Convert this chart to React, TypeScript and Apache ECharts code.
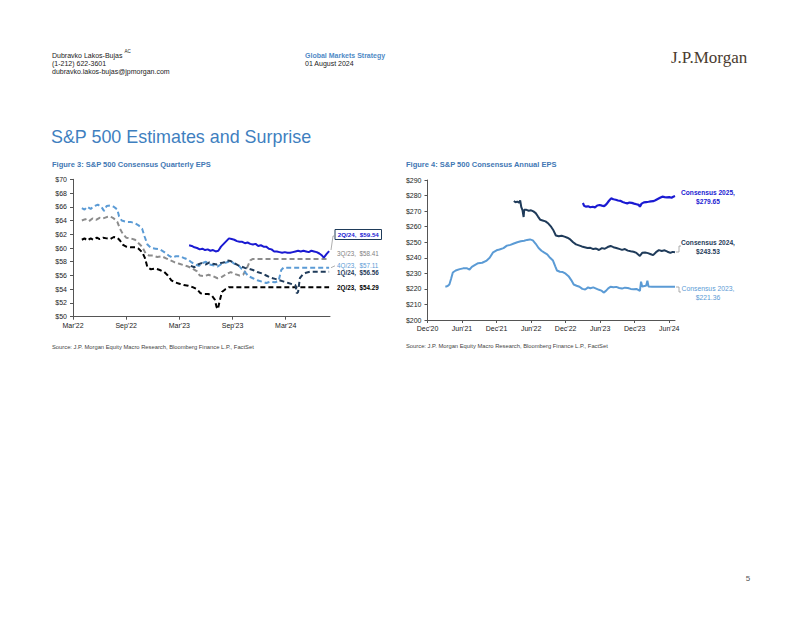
import React, { useEffect, useRef } from "react";
import * as echarts from "echarts";

// ---------- Figure 3: quarterly EPS (x = months since 1 Mar 2022) ----------
const qTickValues = [0, 6, 12, 18, 24];
const qTickLabels = ["Mar'22", "Sep'22", "Mar'23", "Sep'23", "Mar'24"];
const qYTicks = [50, 70, 2];

const q2_23: [number, number][] = [[1.0,61.2],[1.3,61.4],[1.6,61.1],[2.0,61.4],[2.3,61.2],[2.7,61.5],[3.0,61.3],[3.4,61.5],[3.8,61.4],[4.2,61.3],[4.6,61.6],[5.0,61.5],[5.3,61.1],[5.6,60.5],[6.0,60.2],[6.5,60.1],[7.0,60.1],[7.4,59.9],[7.8,59.4],[8.1,58.6],[8.4,57.2],[8.8,56.9],[9.3,57.0],[9.8,56.8],[10.3,56.5],[10.7,56.0],[11.1,55.3],[11.5,55.0],[12.0,54.8],[12.5,54.6],[13.0,54.5],[13.5,54.3],[14.0,54.0],[14.4,53.4],[14.8,53.3],[15.3,53.3],[15.7,53.0],[16.0,52.5],[16.2,51.4],[16.35,51.1],[16.5,52.0],[16.8,53.6],[17.2,54.0],[17.6,54.3],[18.0,54.29],[28.9,54.29]];
const q3_23: [number, number][] = [[1.0,64.0],[1.4,64.2],[1.8,63.9],[2.2,64.3],[2.6,64.1],[3.0,64.4],[3.4,64.3],[3.8,64.5],[4.2,64.6],[4.6,64.3],[5.0,63.8],[5.3,62.8],[5.6,62.1],[6.0,61.5],[6.5,61.4],[7.0,61.2],[7.4,60.7],[7.8,60.2],[8.2,59.2],[8.6,58.9],[9.0,58.9],[9.5,58.7],[10.0,58.8],[10.5,58.5],[11.0,58.2],[11.5,57.9],[12.0,57.7],[12.5,57.5],[13.0,57.3],[13.5,57.0],[14.0,56.6],[14.3,56.0],[14.8,55.9],[15.3,56.1],[15.8,55.9],[16.3,55.6],[16.8,55.8],[17.3,56.2],[17.8,56.5],[18.3,56.2],[18.8,56.0],[19.2,56.1],[19.6,57.0],[20.0,58.2],[20.3,58.41],[28.9,58.41]];
const q4_23: [number, number][] = [[1.0,65.8],[1.3,65.6],[1.6,66.0],[2.0,65.7],[2.4,66.1],[2.8,66.3],[3.2,66.0],[3.5,65.4],[3.8,66.1],[4.2,66.2],[4.6,66.0],[5.0,65.6],[5.2,64.6],[5.5,64.0],[6.0,63.8],[6.5,63.8],[7.0,63.6],[7.4,63.3],[7.8,62.8],[8.1,61.6],[8.4,60.5],[8.8,60.0],[9.3,59.9],[9.8,59.8],[10.3,59.4],[10.8,58.9],[11.2,58.6],[11.6,58.8],[12.1,58.8],[12.6,58.5],[13.0,58.3],[13.4,57.9],[13.8,57.6],[14.2,57.4],[14.6,57.8],[15.0,58.0],[15.4,57.6],[15.8,57.5],[16.3,57.3],[16.8,57.7],[17.3,57.9],[17.8,58.1],[18.2,57.7],[18.6,57.6],[19.0,57.0],[19.4,56.5],[19.8,55.9],[20.3,55.6],[20.8,55.3],[21.3,55.1],[21.8,54.9],[22.3,55.1],[22.8,55.0],[23.2,55.2],[23.5,56.8],[23.8,57.2],[24.2,57.11],[28.9,57.11]];
const q1_24: [number, number][] = [[13.3,57.4],[13.7,57.2],[14.1,57.6],[14.5,57.8],[15.0,57.6],[15.4,57.9],[15.8,57.7],[16.2,57.6],[16.6,57.8],[17.0,57.9],[17.4,58.2],[17.8,58.1],[18.2,57.8],[18.6,57.5],[19.0,57.3],[19.4,57.1],[19.8,57.0],[20.3,56.8],[20.8,56.5],[21.3,56.3],[21.8,56.0],[22.3,55.7],[22.8,55.5],[23.3,55.3],[23.8,55.1],[24.3,54.9],[24.8,54.7],[25.1,54.6],[25.25,53.4],[25.4,53.6],[25.6,55.6],[25.9,56.1],[26.3,56.4],[26.8,56.56],[28.9,56.56]];
const q2_24: [number, number][] = [[13.1,60.4],[13.4,60.3],[13.7,60.1],[14.0,60.0],[14.3,59.8],[14.6,59.9],[14.9,59.7],[15.2,59.8],[15.5,59.6],[15.8,59.7],[16.1,59.5],[16.4,59.6],[16.7,60.2],[17.0,60.6],[17.3,61.0],[17.6,61.4],[17.9,61.3],[18.2,61.2],[18.5,61.0],[18.8,60.9],[19.1,60.9],[19.4,60.7],[19.7,60.8],[20.0,60.6],[20.3,60.5],[20.6,60.6],[20.9,60.3],[21.2,60.4],[21.5,60.2],[21.8,60.2],[22.1,59.9],[22.4,59.8],[22.7,59.5],[23.0,59.5],[23.3,59.4],[23.6,59.3],[23.9,59.4],[24.2,59.3],[24.5,59.3],[24.8,59.4],[25.1,59.5],[25.4,59.6],[25.7,59.5],[26.0,59.6],[26.3,59.5],[26.6,59.4],[26.9,59.6],[27.2,59.5],[27.5,59.4],[27.8,59.2],[28.1,58.9],[28.3,58.6],[28.6,59.1],[28.9,59.54]];

// ---------- Figure 4: annual EPS (x = months since 1 Dec 2020) ----------
const aTickValues = [0, 6, 12, 18, 24, 30, 36, 42];
const aTickLabels = ["Dec'20", "Jun'21", "Dec'21", "Jun'22", "Dec'22", "Jun'23", "Dec'23", "Jun'24"];

const c2023: [number, number][] = [[3.1,221.4],[3.5,221.8],[3.8,222.8],[4.1,226.5],[4.4,230.5],[4.9,231.8],[5.6,232.7],[6.2,233.2],[6.8,233.3],[7.3,232.4],[7.7,234.2],[8.2,235.3],[8.8,236.5],[9.5,236.8],[10.2,238.0],[10.8,240.0],[11.4,243.5],[12.0,244.8],[12.5,245.3],[13.2,246.2],[13.8,247.8],[14.4,248.3],[15.0,249.2],[15.6,250.0],[16.2,250.6],[16.8,251.0],[17.3,251.5],[17.8,251.8],[18.3,251.2],[18.8,249.0],[19.3,246.3],[19.8,244.5],[20.3,243.3],[20.8,242.2],[21.3,240.0],[21.8,238.2],[22.2,234.5],[22.5,231.8],[23.0,231.0],[23.5,230.8],[24.0,229.8],[24.5,228.2],[25.0,225.5],[25.4,222.8],[25.9,222.0],[26.4,221.4],[26.9,220.0],[27.4,219.6],[27.9,221.0],[28.3,220.4],[28.8,221.0],[29.3,220.2],[29.8,219.4],[30.2,218.9],[30.6,217.6],[31.0,218.7],[31.4,220.3],[31.8,221.4],[32.3,221.0],[32.8,221.3],[33.3,220.6],[33.8,220.2],[34.3,220.8],[34.8,220.6],[35.3,220.0],[35.8,219.8],[36.3,220.0],[36.9,218.8],[37.1,224.6],[37.3,221.5],[37.7,221.8],[38.0,222.2],[38.2,225.3],[38.4,221.5],[39.0,221.36],[43.0,221.36]];
const c2024: [number, number][] = [[15.0,276.5],[15.3,275.7],[15.6,276.1],[15.9,275.4],[16.1,276.8],[16.3,272.5],[16.5,270.6],[16.7,266.2],[16.8,270.8],[17.2,270.8],[17.6,270.2],[18.0,270.5],[18.4,269.8],[18.8,268.7],[19.2,266.5],[19.6,264.4],[20.0,264.0],[20.5,263.4],[21.0,262.0],[21.5,259.8],[21.9,257.5],[22.3,254.3],[22.8,253.8],[23.3,254.2],[23.8,253.6],[24.3,252.9],[24.8,251.8],[25.3,250.0],[25.8,248.6],[26.3,248.0],[26.8,247.3],[27.3,246.8],[27.8,246.3],[28.3,246.4],[28.8,245.6],[29.3,245.9],[29.8,245.0],[30.3,246.2],[30.8,245.8],[31.3,246.9],[31.8,247.6],[32.3,246.8],[32.8,246.3],[33.3,245.7],[33.8,245.1],[34.3,245.6],[34.8,244.6],[35.3,244.2],[35.8,243.9],[36.3,243.1],[36.9,241.2],[37.3,243.2],[37.8,243.4],[38.3,243.0],[38.8,242.3],[39.2,241.7],[39.7,243.6],[40.2,244.9],[40.7,244.4],[41.2,244.8],[41.7,243.9],[42.2,243.1],[42.6,243.8],[43.0,243.53]];
const c2025: [number, number][] = [[27.0,275.2],[27.2,273.5],[27.5,272.9],[27.9,273.1],[28.3,272.5],[28.7,272.8],[29.1,272.4],[29.5,273.6],[29.9,273.9],[30.3,273.5],[30.7,273.2],[31.1,274.5],[31.5,276.5],[31.9,278.2],[32.3,277.6],[32.7,277.3],[33.1,276.8],[33.5,276.6],[33.9,275.9],[34.3,275.4],[34.7,275.0],[35.1,275.5],[35.5,275.3],[35.9,274.8],[36.3,274.4],[36.7,274.0],[36.9,272.8],[37.2,274.8],[37.6,275.6],[38.0,275.8],[38.4,276.0],[38.8,276.3],[39.2,276.4],[39.6,277.0],[40.0,277.8],[40.4,278.6],[40.8,279.3],[41.2,279.0],[41.6,278.8],[42.0,279.0],[42.4,278.6],[42.7,279.2],[43.0,279.65]];

const SANS = "'Liberation Sans', Arial, sans-serif";
const NARROW = "'Liberation Sans Narrow', 'Arial Narrow', 'Liberation Sans', Arial, sans-serif";

const C_BLUE = "#1a1ad2";
const C_GRAY = "#8c8c8c";
const C_LBLUE = "#5b9bd5";
const C_NAVY = "#1f3b5a";
const C_BLACK = "#000000";
const C_TITLE = "#3f7fbf";

function txt(x: number, y: number, text: string, o: any = {}) {
  return {
    type: "text",
    x,
    y,
    silent: true,
    style: {
      text,
      fill: o.fill || "#222",
      fontSize: o.size || 7,
      fontFamily: o.family || SANS,
      fontWeight: o.weight || "normal",
      align: o.align || "left",
      verticalAlign: "middle",
    },
  };
}

function pl(points: number[][], stroke = "#9a9a9a") {
  return { type: "polyline", silent: true, shape: { points }, style: { stroke, lineWidth: 0.8, fill: "none" } };
}

const axisLabelStyle = { color: "#222", fontSize: 7, fontFamily: NARROW };

function xAxisDef(gridIndex: number, max: number, ticks: number[], labels: string[], margin: number) {
  return {
    type: "value",
    gridIndex,
    min: 0,
    max,
    interval: 6,
    splitLine: { show: false },
    axisLine: { show: true, lineStyle: { color: "#555", width: 1 } },
    axisTick: { show: true, length: 3, lineStyle: { color: "#555" }, customValues: ticks },
    axisLabel: {
      ...axisLabelStyle,
      margin,
      customValues: ticks,
      formatter: (v: number) => {
        const i = ticks.indexOf(Math.round(v));
        return i >= 0 ? labels[i] : "";
      },
    },
  };
}

function yAxisDef(gridIndex: number, min: number, max: number, interval: number) {
  return {
    type: "value",
    gridIndex,
    min,
    max,
    interval,
    splitLine: { show: false },
    axisLine: { show: true, lineStyle: { color: "#555", width: 1 } },
    axisTick: { show: true, length: 3, lineStyle: { color: "#555" } },
    axisLabel: { ...axisLabelStyle, margin: 6, formatter: (v: number) => "$" + v },
  };
}

function lineSeries(data: [number, number][], color: string, idx: number, dashed: boolean, width = 2) {
  return {
    type: "line",
    xAxisIndex: idx,
    yAxisIndex: idx,
    data,
    showSymbol: false,
    symbol: "none",
    silent: true,
    lineStyle: { color, width, type: dashed ? [5, 3] : "solid", cap: "butt" },
    z: 3,
  };
}

export default function App() {
  const ref = useRef<HTMLDivElement>(null);
  useEffect(() => {
    const chart = echarts.init(ref.current!, null, { renderer: "svg" });
    const option: any = {
      animation: false,
      backgroundColor: "#ffffff",
      grid: [
        { left: 73, top: 179.3, width: 257, height: 137.4, containLabel: false },
        { left: 427.5, top: 180, width: 247.5, height: 140, containLabel: false },
      ],
      xAxis: [
        xAxisDef(0, 29, qTickValues, qTickLabels, 5),
        xAxisDef(1, 43, aTickValues, aTickLabels, 5),
      ],
      yAxis: [yAxisDef(0, qYTicks[0], qYTicks[1], qYTicks[2]), yAxisDef(1, 200, 290, 10)],
      series: [
        lineSeries(q2_23, C_BLACK, 0, true),
        lineSeries(q3_23, C_GRAY, 0, true),
        lineSeries(q4_23, C_LBLUE, 0, true),
        lineSeries(q1_24, C_NAVY, 0, true),
        lineSeries(q2_24, C_BLUE, 0, false),
        lineSeries(c2023, C_LBLUE, 1, false),
        lineSeries(c2024, C_NAVY, 1, false),
        lineSeries(c2025, C_BLUE, 1, false, 2.2),
      ],
      graphic: [
        // header
        txt(52, 55, "Dubravko Lakos-Bujas", { size: 7 }),
        txt(124.5, 51.5, "AC", { size: 4.5 }),
        txt(52, 63.3, "(1-212) 622-3601", { size: 7 }),
        txt(52, 71.6, "dubravko.lakos-bujas@jpmorgan.com", { size: 7 }),
        txt(305, 55, "Global Markets Strategy", { size: 7, weight: "bold", fill: "#4f8ac6" }),
        txt(305, 63.3, "01 August 2024", { size: 7 }),
        txt(671, 57, "J.P.Morgan", { size: 17, family: "'Liberation Serif', 'DejaVu Serif', serif", fill: "#4a3b2f" }),
        // section title
        txt(51, 137, "S&P 500 Estimates and Surprise", { size: 17.9, fill: C_TITLE }),
        txt(52, 164, "Figure 3: S&P 500 Consensus Quarterly EPS", { size: 7.5, weight: "bold", family: NARROW, fill: "#3f78b4" }),
        txt(406, 164, "Figure 4: S&P 500 Consensus Annual EPS", { size: 7.5, weight: "bold", family: NARROW, fill: "#3f78b4" }),
        // Figure 3 labels
        { type: "rect", silent: true, shape: { x: 335, y: 229.5, width: 46.5, height: 10 }, style: { fill: "#ffffff", stroke: "#1f3b5a", lineWidth: 1 } },
        txt(358.3, 234.6, "2Q/24,  $59.54", { size: 6.2, weight: "bold", family: NARROW, fill: C_BLUE, align: "center" }),
        pl([[331, 250], [333, 236], [335, 236]]),
        txt(337, 253.5, "3Q/23,  $58.41", { size: 6.3, family: NARROW, fill: "#7f7f7f" }),
        pl([[331, 267.7], [335, 265.8]]),
        txt(337, 265.8, "4Q/23,  $57.11", { size: 6.3, family: NARROW, fill: C_LBLUE }),
        txt(337, 272.6, "1Q/24,  $56.56", { size: 6.3, weight: "bold", family: NARROW, fill: C_NAVY }),
        txt(337, 287.8, "2Q/23,  $54.29", { size: 6.3, weight: "bold", family: NARROW, fill: C_BLACK }),
        // Figure 4 labels
        txt(708, 192.7, "Consensus 2025,", { size: 6.6, weight: "bold", family: NARROW, fill: C_BLUE, align: "center" }),
        txt(708, 201.7, "$279.65", { size: 6.6, weight: "bold", family: NARROW, fill: C_BLUE, align: "center" }),
        pl([[676, 252], [679, 252], [679, 246], [681, 246]]),
        txt(708, 242, "Consensus 2024,", { size: 6.6, weight: "bold", family: NARROW, fill: C_NAVY, align: "center" }),
        txt(708, 251, "$243.53", { size: 6.6, weight: "bold", family: NARROW, fill: C_NAVY, align: "center" }),
        pl([[676, 287], [679, 287], [679, 292], [681, 292]]),
        txt(708, 288, "Consensus 2023,", { size: 6.8, family: NARROW, fill: C_LBLUE, align: "center" }),
        txt(708, 297, "$221.36", { size: 6.8, family: NARROW, fill: C_LBLUE, align: "center" }),
        // sources
        txt(52, 346.5, "Source: J.P. Morgan Equity Macro Research, Bloomberg Finance L.P., FactSet", { size: 5.8, fill: "#444" }),
        txt(406, 346, "Source: J.P. Morgan Equity Macro Research, Bloomberg Finance L.P., FactSet", { size: 5.8, fill: "#444" }),
        // page number
        txt(748, 578, "5", { size: 8, fill: "#555", align: "center" }),
      ],
    };
    chart.setOption(option);
    return () => chart.dispose();
  }, []);
  return (
    <div
      ref={ref}
      style={{ position: "absolute", left: 0, top: 0, width: 802, height: 620, background: "#fff" }}
    />
  );
}
